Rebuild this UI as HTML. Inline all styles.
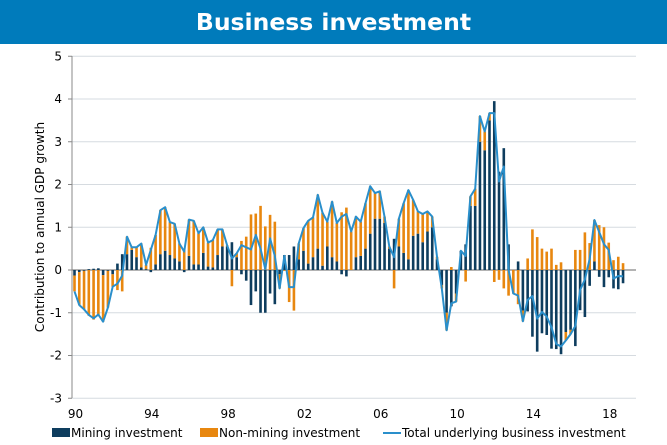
<!DOCTYPE html>
<html><head><meta charset="utf-8"><style>
body{margin:0;width:667px;height:445px;background:#fff;overflow:hidden;font-family:"DejaVu Sans","Liberation Sans",sans-serif;}
#title{position:absolute;left:0;top:0;width:667px;height:44px;background:#007BBB;color:#fff;font-weight:bold;font-size:23.5px;text-align:center;line-height:44px;}
svg{position:absolute;left:0;top:0;}
</style></head><body>
<div id="title">Business investment</div>
<svg id="chart" width="667" height="445"></svg>
<script>
const mining=[-0.13,-0.05,-0.02,0.02, 0.03,0.04,-0.12,-0.02, -0.1,0.15,0.37,0.37, 0.47,0.3,0.06,0.02,
-0.05,0.13,0.37,0.45, 0.35,0.27,0.2,-0.05, 0.33,0.13,0.13,0.4, 0.08,0.06,0.35,0.55,
0.55,0.65,0.3,-0.1, -0.25,-0.82,-0.5,-1.0, -1.0,-0.55,-0.8,-0.1, 0.35,0.35,0.55,0.25,
0.45,0.15,0.3,0.5, 0.1,0.55,0.3,0.2, -0.1,-0.15,0.0,0.3, 0.33,0.5,0.85,1.2,
1.2,1.1,0.5,0.73, 0.55,0.4,0.25,0.8, 0.85,0.65,0.9,1.0, 0.25,-0.35,-1.0,-0.85,
-0.55,0.45,0.6,1.5, 1.5,3.0,2.8,3.5, 3.95,2.3,2.85,0.6, 0.0,0.2,-0.95,-0.97,
-1.56,-1.91,-1.48,-1.52, -1.84,-1.85,-1.97,-1.45, -1.4,-1.78,-0.94,-1.1, -0.37,0.2,-0.16,-0.4,
-0.17,-0.43,-0.45,-0.31];
const nonMining=[-0.37,-0.77,-0.9,-1.07, -1.16,-1.08,-1.09,-0.86, -0.29,-0.47,-0.5,0.41, 0.06,0.23,0.56,0.1,
0.52,0.69,1.03,1.02, 0.77,0.81,0.42,0.48, 0.85,1.02,0.73,0.6, 0.56,0.64,0.6,0.4,
0.03,-0.38,0.09,0.68, 0.78,1.3,1.32,1.5, 1.02,1.29,1.13,-0.33, -0.02,-0.75,-0.95,0.37,
0.53,1.0,0.93,1.26, 1.24,0.58,1.3,0.9, 1.35,1.46,0.9,0.95, 0.8,1.06,1.11,0.6,
0.64,0.15,0.05,-0.43, 0.65,1.16,1.62,0.84, 0.52,0.66,0.47,0.25, 0.06,-0.08,-0.41,0.07,
-0.19,0.0,-0.27,0.22, 0.4,0.6,0.44,0.17, -0.28,-0.23,-0.43,-0.6, -0.55,-0.8,-0.25,0.27,
0.95,0.77,0.5,0.43, 0.5,0.12,0.18,-0.2, -0.1,0.47,0.47,0.88, 0.63,0.97,1.05,1.0,
0.64,0.23,0.31,0.16];
const yTicks=[5,4,3,2,1,0,-1,-2,-3];
const xLabels=["90","94","98","02","06","10","14","18"];

const svg=document.getElementById('chart');
const NS='http://www.w3.org/2000/svg';
const X0=74.5, DX=4.77, Y0=270, UY=42.75;
const xq=i=>X0+DX*i;
const yv=v=>Y0-v*UY;
function mk(tag,attrs){const e=document.createElementNS(NS,tag);for(const k in attrs)e.setAttribute(k,attrs[k]);svg.appendChild(e);return e;}

yTicks.forEach(t=>{
  const g=mk('line',{x1:72,x2:636,y1:yv(t),y2:yv(t),stroke:t===0?'#9a9a9a':'#d6dbe0','stroke-width':t===0?1.5:1});
  
  
  mk('line',{x1:68,x2:72,y1:yv(t),y2:yv(t),stroke:'#888'});
  const tx=mk('text',{x:62,y:yv(t)+4,'text-anchor':'end','font-size':12,fill:'#000','font-family':'DejaVu Sans, Liberation Sans, sans-serif'});
  tx.textContent=t;
  
  
});
const ax=mk('line',{x1:72,x2:72,y1:56,y2:398,stroke:'#888'});



xLabels.forEach((l,k)=>{
  const tx=mk('text',{x:xq(16*k)+1,y:418,'text-anchor':'middle','font-size':12,fill:'#000','font-family':'DejaVu Sans, Liberation Sans, sans-serif'});
  tx.textContent=l;
  
  
});

const yt=mk('text',{x:0,y:0,transform:'translate(44,227) rotate(-90)','text-anchor':'middle','font-size':12,fill:'#000','font-family':'DejaVu Sans, Liberation Sans, sans-serif'});
yt.textContent='Contribution to annual GDP growth';



const BW=2.6;
mining.forEach((m,i)=>{
  const n=nonMining[i];
  let pos=0,neg=0;
  [[m,'#0E3D5E','bar-mining'],[n,'#E8870F','bar-non-mining']].forEach(([v,c,name])=>{
    let top,bot;
    if(v>=0){top=yv(pos+v);bot=yv(pos);pos+=v;}else{top=yv(neg);bot=yv(neg+v);neg+=v;}
    const r=mk('rect',{x:xq(i)-BW/2,y:top,width:BW,height:Math.max(0,bot-top),fill:c});
    
    
  });
});
const pts=mining.map((m,i)=>xq(i).toFixed(1)+','+yv(m+nonMining[i]).toFixed(1)).join(' ');
const pl=mk('polyline',{points:pts,fill:'none',stroke:'#2A8FCB','stroke-width':2,'stroke-linejoin':'round'});



const leg=[[52,'rect','#0E3D5E','Mining investment'],[200,'rect','#E8870F','Non-mining investment'],[383,'line','#2A8FCB','Total underlying business investment']];
leg.forEach(([x,t,c,label])=>{
  if(t==='rect'){const s=mk('rect',{x:x,y:428,width:18,height:9,fill:c});}
  else{const s=mk('line',{x1:x,x2:x+18,y1:433,y2:433,stroke:c,'stroke-width':2});}
  const tx=mk('text',{x:x+19,y:437,'font-size':12,fill:'#000','font-family':'DejaVu Sans, Liberation Sans, sans-serif'});
  tx.textContent=label;
  
  
});
</script>
</body></html>
